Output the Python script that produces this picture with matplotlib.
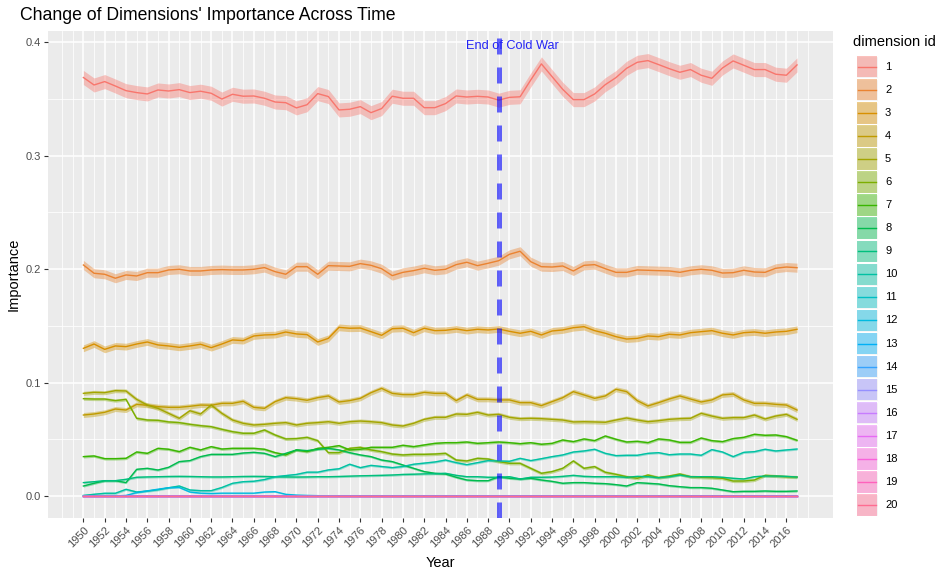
import numpy as np
import matplotlib
matplotlib.use('Agg')
from matplotlib import pyplot as plt
from matplotlib.patches import Rectangle
from matplotlib.lines import Line2D

plt.rcParams['font.family'] = ['Liberation Sans', 'DejaVu Sans']

# data, one value per year 1950..2017
years = list(range(1950, 2018))

dim1 = [0.369, 0.3624, 0.3654, 0.3615, 0.3574, 0.3557, 0.3545, 0.358, 0.3571, 0.3583,
        0.3557, 0.3569, 0.3551, 0.350, 0.3542, 0.3525, 0.3527, 0.3507, 0.3474, 0.3468,
        0.3422, 0.345, 0.3548, 0.3522, 0.3404, 0.341, 0.3433, 0.338, 0.3416, 0.3525,
        0.3507, 0.3507, 0.3424, 0.3424, 0.346, 0.3527, 0.3518, 0.3524, 0.3518, 0.349,
        0.3515, 0.352, 0.3668, 0.381, 0.3698, 0.3586, 0.3495, 0.3495, 0.3545, 0.3627,
        0.3689, 0.3771, 0.3824, 0.3839, 0.3804, 0.3768, 0.3736, 0.376, 0.371, 0.3683,
        0.3774, 0.3836, 0.3798, 0.376, 0.376, 0.3719, 0.371, 0.3801]
dim2 = [0.2037, 0.1964, 0.1955, 0.1920, 0.1949, 0.1940, 0.1969, 0.1969, 0.1993, 0.1999,
        0.1984, 0.1984, 0.1993, 0.1996, 0.1993, 0.1993, 0.1999, 0.2014, 0.1978, 0.1955,
        0.2022, 0.2022, 0.1955, 0.2031, 0.2028, 0.2025, 0.2049, 0.2034, 0.2004, 0.1943,
        0.1972, 0.1987, 0.2008, 0.199, 0.1999, 0.204, 0.2061, 0.2031, 0.2052, 0.2075,
        0.2131, 0.2158, 0.2066, 0.2022, 0.2019, 0.2028, 0.1984, 0.2034, 0.204, 0.2004,
        0.1972, 0.1972, 0.1993, 0.199, 0.1987, 0.1984, 0.1972, 0.199, 0.1999, 0.199,
        0.1966, 0.1969, 0.199, 0.1975, 0.1972, 0.2008, 0.2019, 0.2013]
dim3 = [0.1302, 0.134, 0.1293, 0.1323, 0.1317, 0.134, 0.1358, 0.1332, 0.1323, 0.1311,
        0.1323, 0.1338, 0.1308, 0.134, 0.1376, 0.137, 0.1411, 0.142, 0.1423, 0.1446,
        0.1429, 0.1423, 0.1358, 0.139, 0.1487, 0.1479, 0.1481, 0.1449, 0.1417, 0.1475,
        0.1479, 0.144, 0.1479, 0.1458, 0.1461, 0.1473, 0.1458, 0.147, 0.1464, 0.1473,
        0.1452, 0.1435, 0.1452, 0.1420, 0.1455, 0.1464, 0.1484, 0.1493, 0.1458, 0.1435,
        0.1405, 0.1384, 0.139, 0.1411, 0.1405, 0.1426, 0.142, 0.144, 0.1449, 0.1458,
        0.1435, 0.142, 0.144, 0.1446, 0.1435, 0.1446, 0.1452, 0.147]
dim4 = [0.0714, 0.0723, 0.0738, 0.0767, 0.0758, 0.0808, 0.080, 0.0788, 0.0782, 0.0782,
        0.0791, 0.0802, 0.080, 0.0817, 0.0817, 0.0835, 0.0782, 0.0773, 0.0832, 0.0867,
        0.0858, 0.0844, 0.0867, 0.0882, 0.0829, 0.0841, 0.0861, 0.0911, 0.0949, 0.0905,
        0.0894, 0.0894, 0.0914, 0.0905, 0.0905, 0.0841, 0.0891, 0.0852, 0.0852, 0.0847,
        0.0847, 0.0823, 0.0823, 0.0797, 0.0832, 0.0867, 0.0920, 0.0891, 0.0861, 0.0882,
        0.0941, 0.0920, 0.0841, 0.0794, 0.0823, 0.0855, 0.0882, 0.0855, 0.0829, 0.0847,
        0.0891, 0.0899, 0.0847, 0.0817, 0.0817, 0.0808, 0.0802, 0.0758]
dim5 = [0.0905, 0.0914, 0.0911, 0.0929, 0.0926, 0.0852, 0.0802, 0.0773, 0.0729, 0.0685,
        0.0752, 0.0723, 0.0802, 0.0729, 0.067, 0.0641, 0.0626, 0.0632, 0.0641, 0.0647,
        0.0626, 0.0641, 0.0647, 0.0655, 0.0641, 0.0655, 0.0661, 0.0655, 0.0647, 0.0626,
        0.0617, 0.0641, 0.0676, 0.0694, 0.0694, 0.0723, 0.072, 0.0738, 0.0714, 0.072,
        0.0694, 0.0682, 0.0685, 0.0682, 0.0676, 0.067, 0.0653, 0.0655, 0.0653, 0.065,
        0.067, 0.0688, 0.067, 0.0655, 0.0664, 0.0676, 0.0682, 0.0685, 0.0729, 0.0705,
        0.0685, 0.0691, 0.0691, 0.0714, 0.0679, 0.0705, 0.072, 0.0676]
dim6 = [0.0858, 0.0855, 0.0855, 0.0841, 0.0852, 0.0685, 0.067, 0.0667, 0.0653, 0.0647,
        0.0632, 0.062, 0.0611, 0.0588, 0.0567, 0.0553, 0.0553, 0.0582, 0.0538, 0.0503,
        0.0506, 0.0517, 0.0488, 0.0382, 0.0382, 0.042, 0.0429, 0.0406, 0.0391, 0.037,
        0.0362, 0.0367, 0.0367, 0.037, 0.0376, 0.0317, 0.0309, 0.0332, 0.0326, 0.0303,
        0.0288, 0.0288, 0.0244, 0.020, 0.0215, 0.0244, 0.0309, 0.0244, 0.0259, 0.0209,
        0.0191, 0.017, 0.0156, 0.0185, 0.0162, 0.0176, 0.0194, 0.017, 0.0165, 0.0162,
        0.0156, 0.0132, 0.0132, 0.0141, 0.0182, 0.0176, 0.017, 0.0167]
dim7 = [0.0347, 0.0353, 0.0329, 0.0329, 0.0332, 0.0388, 0.0376, 0.042, 0.0412, 0.0391,
        0.0429, 0.0406, 0.0435, 0.0414, 0.042, 0.042, 0.042, 0.0412, 0.0382, 0.0362,
        0.0406, 0.0391, 0.042, 0.0429, 0.0444, 0.0406, 0.0412, 0.0429, 0.0429, 0.0429,
        0.0447, 0.0435, 0.045, 0.0464, 0.047, 0.047, 0.0476, 0.0464, 0.047, 0.0476,
        0.047, 0.0461, 0.047, 0.0456, 0.0464, 0.0494, 0.0479, 0.0503, 0.0488, 0.0529,
        0.050, 0.0476, 0.0482, 0.047, 0.0503, 0.0494, 0.0473, 0.0473, 0.0511, 0.0488,
        0.0479, 0.0506, 0.0517, 0.0544, 0.0535, 0.0538, 0.0523, 0.0491]
dim8 = [0.0088, 0.0112, 0.0135, 0.0135, 0.0118, 0.0235, 0.0244, 0.0229, 0.0253, 0.0303,
        0.0312, 0.0347, 0.0367, 0.0367, 0.0367, 0.0379, 0.0385, 0.0376, 0.0347, 0.0376,
        0.0406, 0.040, 0.0412, 0.042, 0.0406, 0.0382, 0.0362, 0.0347, 0.0317, 0.0303,
        0.0273, 0.0244, 0.0215, 0.020, 0.0194, 0.0165, 0.0141, 0.0135, 0.0135, 0.017,
        0.0156, 0.015, 0.0156, 0.0141, 0.0129, 0.0112, 0.0118, 0.0118, 0.0112, 0.0109,
        0.010, 0.0088, 0.0118, 0.0112, 0.0106, 0.0091, 0.0082, 0.0074, 0.0074, 0.0068,
        0.0053, 0.0038, 0.0041, 0.0041, 0.0044, 0.0041, 0.0041, 0.0044]
dim9 = [0.0118, 0.0126, 0.0135, 0.0135, 0.0147, 0.0165, 0.0168, 0.017, 0.0172, 0.0173,
        0.0172, 0.017, 0.0168, 0.0168, 0.017, 0.0172, 0.0173, 0.0172, 0.017, 0.0168,
        0.0167, 0.0168, 0.017, 0.017, 0.0172, 0.0175, 0.0178, 0.018, 0.0182, 0.0185,
        0.019, 0.0192, 0.0195, 0.0197, 0.020, 0.0182, 0.017, 0.017, 0.0165, 0.0165,
        0.017, 0.015, 0.0165, 0.0165, 0.0167, 0.0173, 0.0182, 0.0173, 0.017, 0.017,
        0.017, 0.0165, 0.0173, 0.017, 0.0162, 0.017, 0.0185, 0.017, 0.017, 0.017,
        0.0165, 0.0156, 0.015, 0.017, 0.0176, 0.0176, 0.0173, 0.0167]
dim10 = [0.0005, 0.0015, 0.0024, 0.0024, 0.0059, 0.0035, 0.0044, 0.0055, 0.0073, 0.0088,
         0.0053, 0.0047, 0.0047, 0.0075, 0.0112, 0.0126, 0.013, 0.0145, 0.017, 0.018,
         0.019, 0.021, 0.021, 0.023, 0.024, 0.028, 0.025, 0.027, 0.026, 0.025,
         0.026, 0.028, 0.029, 0.030, 0.0317, 0.0294, 0.0276, 0.0294, 0.0312, 0.0309,
         0.0306, 0.0332, 0.0312, 0.0329, 0.0347, 0.0362, 0.0388, 0.0397, 0.0412, 0.0376,
         0.0356, 0.0359, 0.0359, 0.0376, 0.0382, 0.0364, 0.037, 0.037, 0.0359, 0.0409,
         0.0388, 0.0347, 0.0385, 0.0391, 0.0412, 0.0397, 0.0406, 0.0414]
dim12 = [0.0, 0.0, 0.0, 0.0, 0.0005, 0.003, 0.0045, 0.006, 0.0073, 0.0075,
         0.0035, 0.0025, 0.0022, 0.0025, 0.0025, 0.0025, 0.0025, 0.0035, 0.0038, 0.0015,
         0.0008, 0.0005, 0.0003, 0.0001] + [0.0] * 44
flat_zero = [0.0] * len(years)

series = [dim1, dim2, dim3, dim4, dim5, dim6, dim7, dim8, dim9, dim10,
          flat_zero, dim12] + [flat_zero] * 8
# half width of the confidence band of each dimension
band = [0.0062, 0.004, 0.003, 0.0022, 0.0018, 0.0014, 0.0012, 0.001, 0.001, 0.001,
        0.0006, 0.0006, 0.0005, 0.0005, 0.0005, 0.0005, 0.0005, 0.0005, 0.0005, 0.0005]
dim_ids = [str(i) for i in range(1, 21)]
colors = ["#F8766D", "#EA8331", "#D89000", "#C09B00", "#A3A500", "#7CAE00", "#39B600",
          "#00BB4E", "#00BF7D", "#00C1A3", "#00BFC4", "#00BAE0", "#00B0F6", "#35A2FF",
          "#9590FF", "#C77CFF", "#E76BF3", "#FA62DB", "#FF62BC", "#FF6C91"]

event_year = 1989
event_text = "End of Cold War"

W, H = 952, 576
fig = plt.figure(figsize=(W / 100, H / 100), dpi=100)
x0, x1, y0, y1 = 47.7, 832.7, 31, 518
ax = fig.add_axes([x0 / W, 1 - y1 / H, (x1 - x0) / W, (y1 - y0) / H])
ax.set_facecolor('#EBEBEB')
for s in ax.spines.values():
    s.set_visible(False)

yrs = np.array(years)
for vals, hw, c in zip(series, band, colors):
    v = np.array(vals)
    ax.fill_between(yrs, v - hw, v + hw, color=c, alpha=0.4, lw=0, zorder=2)
for vals, c in zip(series, colors):
    ax.plot(yrs, vals, color=c, lw=1.0, zorder=3)

ax.axvline(event_year, color='#0000FF', alpha=0.6, lw=3.6, dashes=(3.2, 2.6), zorder=4)
ax.text(event_year + 1.3, 0.397, event_text, color='#2525F5', fontsize=9.2,
        ha='center', va='center', zorder=5)

ax.set_xlim(1946.65, 2020.35)
ax.set_ylim(-0.0194, 0.41)
ax.set_xticks(list(range(1950, 2017, 2)))
ax.set_xticks([y for y in range(1948, 2019) if y % 2 == 1 or y in (1948, 2018)], minor=True)
ax.set_yticks([0.0, 0.1, 0.2, 0.3, 0.4])
ax.set_yticks([0.05, 0.15, 0.25, 0.35], minor=True)
ax.set_yticklabels(['0.0', '0.1', '0.2', '0.3', '0.4'])
ax.grid(which='major', color='white', lw=1.1, zorder=0)
ax.grid(which='minor', color='white', lw=0.55, zorder=0)
ax.set_axisbelow(True)
ax.tick_params(which='major', length=3, width=0.8, color='#333333', labelsize=8,
               labelcolor='#4D4D4D', pad=2)
ax.tick_params(which='minor', length=0)
for lab in ax.get_xticklabels():
    lab.set_rotation(45)
    lab.set_ha('right')
    lab.set_va('top')
    lab.set_rotation_mode('anchor')

fig.text(20 / W, 1 - 15 / H, "Change of Dimensions' Importance Across Time",
         fontsize=12.7, ha='left', va='center')
fig.text((x0 + x1) / 2 / W, 1 - 563 / H, 'Year', fontsize=10.5, ha='center', va='center')
fig.text(14 / W, 1 - (y0 + y1) / 2 / H, 'Importance', fontsize=10.5, rotation=90,
         ha='center', va='center')

# legend drawn in pixel coordinates
lax = fig.add_axes([0, 0, 1, 1])
lax.set_xlim(0, W)
lax.set_ylim(H, 0)
lax.axis('off')
lax.text(853, 42, 'dimension id', fontsize=10.5, ha='left', va='center')
for i, (lab, c) in enumerate(zip(dim_ids, colors)):
    cy = 66.7 + 23.07 * i
    lax.add_patch(Rectangle((856, cy - 11.2), 21.5, 22.4, facecolor='#F2F2F2',
                            edgecolor='white', lw=1))
    lax.add_patch(Rectangle((856.5, cy - 10.7), 20.5, 21.4, facecolor=c, alpha=0.45, lw=0))
    lax.add_line(Line2D([858, 875.5], [cy, cy], color=c, lw=1.0))
    lax.text(885, cy, lab, fontsize=8, ha='left', va='center')

fig.savefig('out.png', dpi=100)
